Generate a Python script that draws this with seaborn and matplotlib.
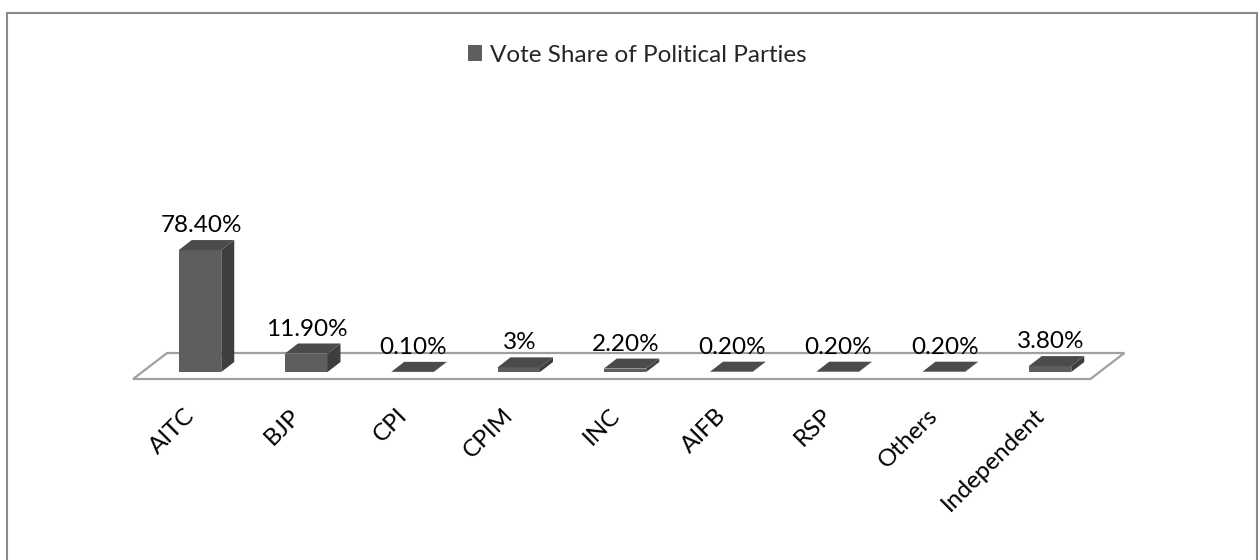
import matplotlib
matplotlib.use("Agg")
import matplotlib.pyplot as plt
import seaborn as sns
import pandas as pd
import numpy as np
from matplotlib.patches import Polygon, Rectangle
from matplotlib.transforms import IdentityTransform, ScaledTranslation

# ---- data ----
parties = ["AITC", "BJP", "CPI", "CPIM", "INC", "AIFB", "RSP", "Others", "Independent"]
vote_share = [78.4, 11.9, 0.1, 3.0, 2.2, 0.2, 0.2, 0.2, 3.8]
value_labels = ["78.40%", "11.90%", "0.10%", "3%", "2.20%", "0.20%", "0.20%", "0.20%", "3.80%"]
series_name = "Vote Share of Political Parties"

df = pd.DataFrame({"party": parties, "share": vote_share})

sns.set_theme(style="white")
plt.rcParams["font.family"] = ["Lato", "DejaVu Sans"]

FS = 17.5
DPI = 100
fig = plt.figure(figsize=(12.6, 5.6), dpi=DPI)
fig.patch.set_facecolor("white")

# axes placement (pixels): x 93.75 .. 1156.25, y(bottom) 149 .. 499
ax = fig.add_axes([93.75 / 1260, 149.1 / 560, 1062.5 / 1260, 350 / 560])
ax.set_facecolor("none")

FRONT = "#5e5e5e"
SIDE = "#3e3e3e"
TOP = "#4b4b4b"

sns.barplot(data=df, x="party", y="share", color=FRONT, saturation=1,
            width=0.4, ax=ax, zorder=3, linewidth=0)

ax.set_xlim(-1, 9)
ax.set_ylim(-25, 200)
for s in ax.spines.values():
    s.set_visible(False)
ax.set_yticks([])
ax.set_xlabel("")
ax.set_ylabel("")
ax.set_xticks(range(len(parties)))
ax.set_xticklabels(parties, rotation=45, ha="right", va="center",
                   rotation_mode="anchor", fontsize=FS, color="black")
ax.tick_params(axis="x", length=0, pad=1)
shift = ScaledTranslation(-9 / DPI, 0, fig.dpi_scale_trans)
for lbl in ax.get_xticklabels():
    lbl.set_transform(lbl.get_transform() + shift)

fig.canvas.draw()
tD = ax.transData
ident = IdentityTransform()

# floor (depth plane)
BDX, BDY = 13, 10      # bar depth offset in pixels
FDX, FDY = 34, 26      # floor depth offset in pixels
n = len(parties)
fl_left, fl_right = -0.63, n - 1 + 0.38
p1 = tD.transform((fl_left, 0)) + np.array([0, -7])
p2 = tD.transform((fl_right, 0)) + np.array([0, -7])
p3 = p2 + np.array([FDX, FDY])
p4 = p1 + np.array([FDX, FDY])
floor = Polygon([p1, p2, p3, p4], closed=True, transform=ident,
                facecolor="white", edgecolor="#a0a0a0", linewidth=1.6,
                zorder=1, clip_on=False)
ax.add_artist(floor)

# 3D faces for bars
for patch, lab in zip(ax.patches, value_labels):
    x0 = patch.get_x()
    w = patch.get_width()
    h = patch.get_height()
    br = tD.transform((x0 + w, 0))
    tl = tD.transform((x0, h))
    tr = tD.transform((x0 + w, h))
    off = np.array([BDX, BDY])
    side = Polygon([br, tr, tr + off, br + off], closed=True, transform=ident,
                   facecolor=SIDE, edgecolor="none", zorder=4, clip_on=False)
    top = Polygon([tl, tr, tr + off, tl + off], closed=True, transform=ident,
                  facecolor=TOP, edgecolor="none", zorder=4, clip_on=False)
    ax.add_artist(side)
    ax.add_artist(top)
    cx = x0 + w / 2
    ax.annotate(lab, xy=(cx, h), xytext=(1, 18), textcoords="offset pixels",
                ha="center", va="baseline", fontsize=FS, color="black",
                zorder=6, annotation_clip=False)

# legend
handle = Rectangle((0, 0), 1, 1, facecolor=FRONT, edgecolor="none")
fig.legend([handle], [series_name], loc="center", bbox_to_anchor=(637 / 1260, 1 - 55 / 560),
           frameon=False, fontsize=FS, handlelength=0.6, handleheight=0.6,
           handletextpad=0.3, borderaxespad=0)

# chart border (top, left, right; bottom cut off)
border = Rectangle((7 / 1260, -0.05), 1250 / 1260, (560 - 13) / 560 + 0.05,
                   transform=fig.transFigure, facecolor="none",
                   edgecolor="#8a8a8a", linewidth=1.5, zorder=0)
fig.patches.append(border)

fig.savefig("out.png", dpi=DPI, facecolor="white")
